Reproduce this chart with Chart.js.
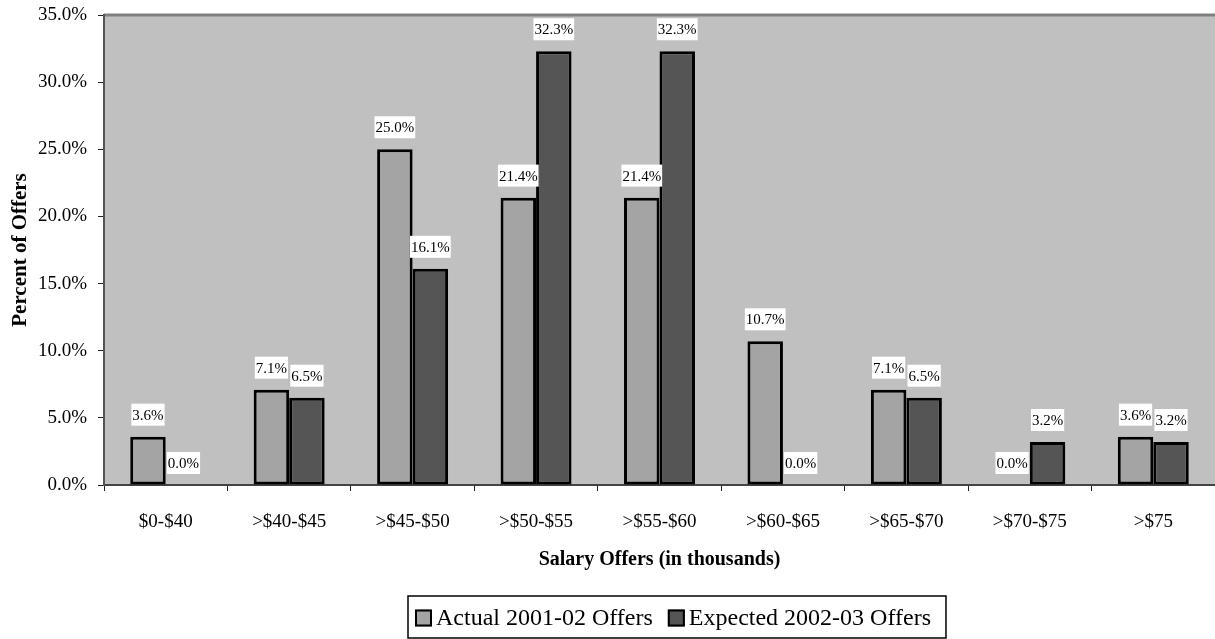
<!DOCTYPE html>
<html>
<head>
<meta charset="utf-8">
<title>Salary Offers</title>
<script src="https://cdn.jsdelivr.net/npm/chart.js"></script>
<style>
  html, body { margin: 0; padding: 0; background: #ffffff; }
  #wrap { width: 1215px; height: 639px; }
</style>
</head>
<body>
<div id="wrap"><canvas id="salaryChart" width="1215" height="639"></canvas></div>
<script>
// salary bands (thousands of dollars)
const categories = ['$0-$40', '>$40-$45', '>$45-$50', '>$50-$55', '>$55-$60', '>$60-$65', '>$65-$70', '>$70-$75', '>$75'];

// percent of offers per band
const actualOffers = [3.6, 7.1, 25.0, 21.4, 21.4, 10.7, 7.1, 0.0, 3.6];
const expectedOffers = [0.0, 6.5, 16.1, 32.3, 32.3, 0.0, 6.5, 3.2, 3.2];

const seriesNames = ['Actual 2001-02 Offers', 'Expected 2002-03 Offers'];
const seriesColors = ['#A4A4A4', '#555555'];

const yMin = 0;
const yMax = 35;
const yStep = 5;

const SERIF = '"Liberation Serif", "Times New Roman", serif';

// grey plot area with the darker top edge
const plotBackground = {
  id: 'plotBackground',
  beforeDraw(chart) {
    const { ctx, chartArea: a } = chart;
    ctx.save();
    ctx.fillStyle = '#C0C0C0';
    ctx.fillRect(a.left, a.top, a.right - a.left, a.bottom - a.top);
    ctx.strokeStyle = '#808080';
    ctx.lineWidth = 3;
    ctx.beginPath();
    ctx.moveTo(a.left, a.top);
    ctx.lineTo(a.right, a.top);
    ctx.stroke();
    ctx.restore();
  }
};

// value labels in white boxes above each bar
const valueLabels = {
  id: 'valueLabels',
  afterDatasetsDraw(chart) {
    const ctx = chart.ctx;
    ctx.save();
    ctx.font = '15px ' + SERIF;
    ctx.textAlign = 'center';
    ctx.textBaseline = 'middle';
    chart.data.datasets.forEach((ds, i) => {
      const meta = chart.getDatasetMeta(i);
      meta.data.forEach((bar, j) => {
        const text = ds.data[j].toFixed(1) + '%';
        const w = ctx.measureText(text).width;
        const cy = bar.y - 22;
        ctx.fillStyle = '#ffffff';
        ctx.fillRect(bar.x - w / 2 - 1, cy - 11, w + 2, 22);
        ctx.fillStyle = '#000000';
        ctx.fillText(text, bar.x, cy + 1);
      });
    });
    ctx.restore();
  }
};

// boxed legend under the axis title
const boxedLegend = {
  id: 'boxedLegend',
  afterDraw(chart) {
    const ctx = chart.ctx;
    const left = 408, top = 596, bottom = 638;
    const cy = 618;
    ctx.save();
    ctx.font = '24px ' + SERIF;
    ctx.textBaseline = 'middle';
    let x = left + 7;
    chart.data.datasets.forEach((ds, i) => {
      if (i > 0) x += 15;
      ctx.fillStyle = ds.backgroundColor;
      ctx.fillRect(x, cy - 8.5, 17, 17);
      ctx.strokeStyle = '#000000';
      ctx.lineWidth = 2;
      ctx.strokeRect(x + 1, cy - 7.5, 15, 15);
      x += 21;
      ctx.fillStyle = '#000000';
      ctx.fillText(ds.label, x, cy + 1);
      x += ctx.measureText(ds.label).width;
    });
    ctx.strokeStyle = '#000000';
    ctx.lineWidth = 1.5;
    ctx.strokeRect(left, top, x + 15 - left, bottom - top);
    ctx.restore();
  }
};

const ctx = document.getElementById('salaryChart').getContext('2d');
new Chart(ctx, {
  type: 'bar',
  data: {
    labels: categories,
    datasets: [
      {
        label: seriesNames[0],
        data: actualOffers,
        backgroundColor: seriesColors[0],
        borderColor: '#000000',
        borderWidth: 3,
        borderSkipped: false,
        categoryPercentage: 0.575,
        barPercentage: 1.0
      },
      {
        label: seriesNames[1],
        data: expectedOffers,
        backgroundColor: seriesColors[1],
        borderColor: '#000000',
        borderWidth: 3,
        borderSkipped: false,
        categoryPercentage: 0.575,
        barPercentage: 1.0
      }
    ]
  },
  options: {
    responsive: false,
    animation: false,
    devicePixelRatio: 1,
    layout: { padding: { top: 15, right: 0, bottom: 49, left: 0 } },
    plugins: {
      legend: { display: false },
      tooltip: { enabled: false }
    },
    scales: {
      x: {
        afterFit: scale => { scale.height = 105; },
        grid: {
          offset: true,
          drawOnChartArea: false,
          drawTicks: true,
          tickLength: 6,
          color: '#222222',
          lineWidth: 1
        },
        border: { display: true, color: '#444444', width: 2 },
        ticks: {
          color: '#000000',
          font: { family: SERIF, size: 19 },
          padding: 20,
          maxRotation: 0,
          autoSkip: false
        },
        title: {
          display: true,
          text: 'Salary Offers (in thousands)',
          color: '#000000',
          font: { family: SERIF, size: 20, weight: 'bold' },
          padding: { top: 12, bottom: 18 }
        }
      },
      y: {
        min: yMin,
        max: yMax,
        // fixed axis width; label overflow fits inside the layout padding
        afterFit: scale => {
          scale.width = 104;
          scale.paddingTop = 0;
          scale.paddingBottom = 0;
        },
        grid: {
          drawOnChartArea: false,
          drawTicks: true,
          tickLength: 6,
          color: '#222222',
          lineWidth: 1
        },
        border: { display: true, color: '#555555', width: 2 },
        ticks: {
          stepSize: yStep,
          color: '#000000',
          font: { family: SERIF, size: 19 },
          padding: 11,
          callback: v => Number(v).toFixed(1) + '%'
        },
        title: {
          display: true,
          text: 'Percent of Offers',
          color: '#000000',
          font: { family: SERIF, size: 21, weight: 'bold' },
          padding: { top: 8, bottom: 7 }
        }
      }
    }
  },
  plugins: [plotBackground, valueLabels, boxedLegend]
});
</script>
</body>
</html>
